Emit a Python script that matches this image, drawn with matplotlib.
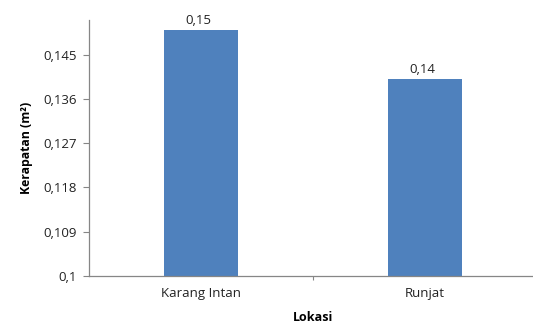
import matplotlib.pyplot as plt
from matplotlib.ticker import FixedLocator, FuncFormatter

locations = ["Karang Intan", "Runjat"]
density = [0.150, 0.140]
density_labels = ["0,15", "0,14"]
y_ticks = [0.1, 0.109, 0.118, 0.127, 0.136, 0.145]

plt.rcParams['font.family'] = ['Open Sans', 'DejaVu Sans']

fig = plt.figure(figsize=(5.33, 3.24), dpi=100)
ax = fig.add_axes([0.167, 0.148, 0.840, 0.790])

x = range(len(locations))
bars = ax.bar(x, density, width=0.33, color="#4F81BD", zorder=2)
for bar, lab in zip(bars, density_labels):
    ax.text(bar.get_x() + bar.get_width() / 2 - 0.01, bar.get_height() + 0.0006, lab,
            ha="center", va="bottom", fontsize=9.5, color="#222222")

ax.set_ylim(0.1, 0.152)
ax.set_xlim(-0.5, 1.5)
ax.yaxis.set_major_locator(FixedLocator(y_ticks))
ax.yaxis.set_major_formatter(FuncFormatter(lambda v, p: ("%g" % round(v, 3)).replace(".", ",")))

ax.xaxis.set_major_locator(FixedLocator([0.5]))
ax.xaxis.set_major_formatter(FuncFormatter(lambda v, p: ""))
ax.xaxis.set_minor_locator(FixedLocator(list(x)))
ax.set_xticklabels(locations, minor=True)
ax.tick_params(axis="x", which="minor", length=0, labelsize=9.5, pad=8, colors="#222222")
ax.tick_params(axis="x", which="major", length=3, color="#868686")
ax.tick_params(axis="y", length=4, color="#868686", labelsize=9.5, labelcolor="#222222", pad=5)

for side in ["top", "right"]:
    ax.spines[side].set_visible(False)
for side in ["left", "bottom"]:
    ax.spines[side].set_color("#868686")
    ax.spines[side].set_linewidth(0.9)

ax.set_ylabel("Kerapatan (m²)", fontsize=8.8, fontweight="bold", labelpad=7)
ax.set_xlabel("Lokasi", fontsize=9, fontweight="bold", labelpad=8)

fig.savefig("out.png", dpi=100)
